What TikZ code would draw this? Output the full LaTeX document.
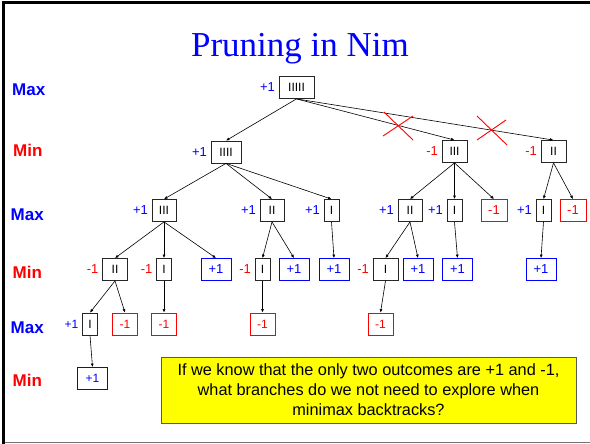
\documentclass[tikz,border=0pt]{standalone}
\usepackage{fontspec}
\setmainfont{Liberation Sans}
\newfontfamily\titlefont{Liberation Serif}
\usetikzlibrary{arrows.meta}
\definecolor{mblue}{RGB}{0,0,255}
\definecolor{mred}{RGB}{255,0,0}
\definecolor{myellow}{RGB}{255,255,0}
\tikzset{
  st/.style={draw=black!85, line width=0.8pt, minimum height=22pt, inner sep=0pt, fill=white, font=\fontsize{12}{12}\selectfont},
  vb/.style={draw=mblue, line width=0.8pt, minimum height=22pt, minimum width=30pt, inner sep=0pt, fill=white, text=mblue, font=\fontsize{13}{13}\selectfont},
  vr/.style={draw=mred, line width=0.8pt, minimum height=22pt, minimum width=25pt, inner sep=0pt, fill=white, text=mred, font=\fontsize{13}{13}\selectfont},
  lb/.style={text=mblue, anchor=east, inner sep=0pt, font=\fontsize{13}{13}\selectfont},
  lr/.style={text=mred, anchor=east, inner sep=0pt, font=\fontsize{13}{13}\selectfont},
  lvmax/.style={text=mblue, anchor=base west, inner sep=0pt, font=\fontsize{17}{17}\selectfont\bfseries},
  lvmin/.style={text=mred, anchor=base west, inner sep=0pt, font=\fontsize{17}{17}\selectfont\bfseries},
  edge/.style={-{Latex[length=3.5pt,width=3pt]}, line width=0.6pt, black},
  cross/.style={mred, line width=0.9pt},
}
\begin{document}
\begin{tikzpicture}[x=1pt,y=-1pt]
\useasboundingbox (0,0) rectangle (590,444);
% frame
\draw[line width=3pt] (1.6,2.8) -- (590,2.8);
\draw[line width=3.4pt] (3.2,1.3) -- (3.2,444);
\draw[line width=1.2pt, black!55] (5,442.7) -- (590,442.7);
% title
\node[anchor=base, text=mblue, inner sep=0pt, font=\titlefont\fontsize{35}{35}\selectfont] (title) at (300,57) {Pruning in Nim};
% level labels
\node[lvmax] (L0) at (12,96) {Max};
\node[lvmin] (L1) at (13,157) {Min};
\node[lvmax] (L2) at (10.5,220) {Max};
\node[lvmin] (L3) at (12.5,278) {Min};
\node[lvmax] (L4) at (10.5,333) {Max};
\node[lvmin] (L5) at (12.5,386) {Min};
% level 0
\node[st, minimum width=35pt] (R) at (296.5,87.5) {IIIII};
% level 1
\node[st, minimum width=30pt] (A1) at (226,152) {IIII};
\node[st, minimum width=25pt] (A2) at (454.5,151.5) {III};
\node[st, minimum width=25pt] (A3) at (553.5,151.5) {II};
% level 2
\node[st, minimum width=24pt] (B1) at (164,210.5) {III};
\node[st, minimum width=24pt] (B2) at (272,210.5) {II};
\node[st, minimum width=15pt] (B3) at (331.5,210.5) {I};
\node[st, minimum width=24pt] (B4) at (410,210.5) {II};
\node[st, minimum width=15pt] (B5) at (454.5,210.5) {I};
\node[vr, minimum width=26pt] (B6) at (494,210.5) {-1};
\node[st, minimum width=15pt] (B7) at (543.5,210.5) {I};
\node[vr, minimum width=26pt] (B8) at (573,210.5) {-1};
% level 3
\node[st, minimum width=25pt] (C1) at (115,269.5) {II};
\node[st, minimum width=15pt] (C2) at (164,269.5) {I};
\node[vb] (C3) at (216,269.5) {+1};
\node[st, minimum width=15pt] (C4) at (262.5,269.5) {I};
\node[vb] (C5) at (294,269.5) {+1};
\node[vb] (C6) at (334,269.5) {+1};
\node[st, minimum width=25pt] (C7) at (385.5,269.5) {I};
\node[vb] (C8) at (418,269.5) {+1};
\node[vb] (C9) at (457.5,269.5) {+1};
\node[vb] (C10) at (541,269.5) {+1};
% level 4
\node[st, minimum width=15pt] (D1) at (90,324) {I};
\node[vr, font=\fontsize{12}{12}\selectfont] (D2) at (125,324) {-1};
\node[vr, font=\fontsize{12}{12}\selectfont] (D3) at (164,324) {-1};
\node[vr, font=\fontsize{12}{12}\selectfont] (D4) at (262.5,324) {-1};
\node[vr, font=\fontsize{12}{12}\selectfont] (D5) at (380.5,324) {-1};
% level 5
\node[vb, font=\fontsize{12}{12}\selectfont] (E1) at (92.5,378.5) {+1};
% value labels
\node[lb] (vR) at ([xshift=-3.5pt]R.west) {+1};
\node[lb] (vA1) at ([xshift=-3.5pt]A1.west) {+1};
\node[lr] (vA2) at ([xshift=-3.5pt]A2.west) {-1};
\node[lr] (vA3) at ([xshift=-3.5pt]A3.west) {-1};
\node[lb] (vB1) at ([xshift=-3.5pt]B1.west) {+1};
\node[lb] (vB2) at ([xshift=-3.5pt]B2.west) {+1};
\node[lb] (vB3) at ([xshift=-3.5pt]B3.west) {+1};
\node[lb] (vB4) at ([xshift=-3.5pt]B4.west) {+1};
\node[lb] (vB5) at ([xshift=-3.5pt]B5.west) {+1};
\node[lb] (vB7) at ([xshift=-3.5pt]B7.west) {+1};
\node[lr] (vC1) at ([xshift=-3.5pt]C1.west) {-1};
\node[lr] (vC2) at ([xshift=-3.5pt]C2.west) {-1};
\node[lr] (vC4) at ([xshift=-3.5pt]C4.west) {-1};
\node[lr] (vC7) at ([xshift=-3.5pt]C7.west) {-1};
\node[lb, font=\fontsize{12}{12}\selectfont] (vD1) at ([xshift=-3.5pt]D1.west) {+1};
% edges
\draw[edge] (R.south) -- (A1.north);
\draw[edge] (R.south) -- (A2.north);
\draw[edge] (R.south) -- (A3.north);
\draw[edge] (A1.south) -- (B1.north);
\draw[edge] (A1.south) -- (B2.north);
\draw[edge] (A1.south) -- (B3.north);
\draw[edge] (A2.south) -- (B4.north);
\draw[edge] (A2.south) -- (B5.north);
\draw[edge] (A2.south) -- (B6.north);
\draw[edge] (A3.south) -- (B7.north);
\draw[edge] (A3.south) -- (B8.north);
\draw[edge] (B1.south) -- (C1.north);
\draw[edge] (B1.south) -- (C2.north);
\draw[edge] (B1.south) -- (C3.north);
\draw[edge] (B2.south) -- (C4.north);
\draw[edge] (B2.south) -- (C5.north);
\draw[edge] (B3.south) -- (C6.north);
\draw[edge] (B4.south) -- (C7.north);
\draw[edge] (B4.south) -- (C8.north);
\draw[edge] (B5.south) -- (C9.north);
\draw[edge] (B7.south) -- (C10.north);
\draw[edge] (C1.south) -- (D1.north);
\draw[edge] (C1.south) -- (D2.north);
\draw[edge] (C2.south) -- (D3.north);
\draw[edge] (C4.south) -- (D4.north);
\draw[edge] (C7.south) -- (D5.north);
\draw[edge] (D1.south) -- (E1.north);
% crosses
\draw[cross] (384,112) -- (413,140) (413,116) -- (383,136);
\draw[cross] (477,116) -- (507,145) (477,140) -- (506,120);
% question box
\node[draw=black!65, line width=1pt, fill=myellow, minimum width=415pt, minimum height=66pt, inner sep=0pt, align=center, font=\fontsize{16.3}{20}\selectfont] (Q) at (368.5,390) {If we know that the only two outcomes are +1 and -1,\\what branches do we not need to explore when\\minimax backtracks?};
\end{tikzpicture}
\end{document}
